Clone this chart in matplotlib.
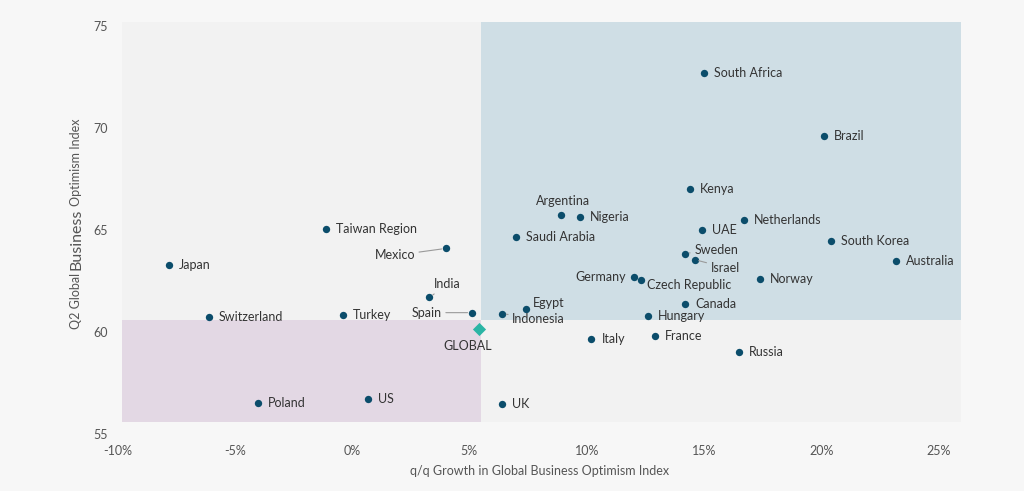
import matplotlib.pyplot as plt
from matplotlib.patches import Rectangle

plt.rcParams['font.family'] = ['Lato', 'DejaVu Sans']

# country data: q/q growth (%) and Q2 optimism index
countries = ['South Africa', 'Brazil', 'Kenya', 'Netherlands', 'UAE', 'South Korea',
             'Sweden', 'Israel', 'Australia', 'Norway', 'Germany', 'Czech Republic',
             'Canada', 'Hungary', 'France', 'Russia', 'Italy', 'Argentina', 'Nigeria',
             'Saudi Arabia', 'Egypt', 'Indonesia', 'UK', 'Spain', 'India', 'Mexico',
             'Japan', 'Switzerland', 'Turkey', 'Poland', 'US', 'Taiwan Region']
growth = [15.0, 20.1, 14.4, 16.7, 14.9, 20.4, 14.2, 14.6, 23.2, 17.4, 12.0, 12.3,
          14.2, 12.6, 12.9, 16.5, 10.2, 8.9, 9.7, 7.0, 7.4, 6.4, 6.4, 5.1, 3.3, 4.0,
          -7.8, -6.1, -0.4, -4.0, 0.7, -1.1]
index = [72.7, 69.6, 67.0, 65.5, 65.0, 64.45, 63.85, 63.55, 63.5, 62.6, 62.7, 62.55,
         61.35, 60.8, 59.8, 59.0, 59.65, 65.75, 65.65, 64.65, 61.15, 60.9, 56.45,
         60.95, 61.7, 64.1, 63.3, 60.75, 60.85, 56.5, 56.7, 65.05]

global_growth = 5.4
global_index = 60.15
split_x = 5.5
split_y = 60.6

# label offsets in pixels (default: right of the point)
offsets = {
    'Mexico': (-31, -7, 'right', True),
    'India': (18, 13, 'center', True),
    'Spain': (-30, 0, 'right', True),
    'Indonesia': (10, -5, 'left', True),
    'Argentina': (2, 14, 'center', False),
    'Egypt': (7, 6, 'left', False),
    'Germany': (-8, 0, 'right', False),
    'Czech Republic': (6, -5, 'left', False),
    'Sweden': (9, 4, 'left', True),
    'Israel': (16, -8, 'left', True),
}

fig = plt.figure(figsize=(10.24, 4.91), dpi=100, facecolor='#f7f7f7')
ax = fig.add_axes([0.1146, 0.1161, 0.825, 0.839])
ax.set_facecolor('#f7f7f7')
ax.set_xlim(-10, 26)
ax.set_ylim(55, 75.2)

x0, x1 = -9.8, 25.95
y0, y1 = 55.6, 75.2
ax.add_patch(Rectangle((x0, split_y), split_x - x0, y1 - split_y, color='#f2f2f2', zorder=0, lw=0))
ax.add_patch(Rectangle((split_x, split_y), x1 - split_x, y1 - split_y, color='#cfdee5', zorder=0, lw=0))
ax.add_patch(Rectangle((x0, y0), split_x - x0, split_y - y0, color='#e3d8e4', zorder=0, lw=0))
ax.add_patch(Rectangle((split_x, y0), x1 - split_x, split_y - y0, color='#f2f2f2', zorder=0, lw=0))

ax.scatter(growth, index, s=28, color='#0b4d6b', zorder=3, linewidths=0)
ax.scatter([global_growth], [global_index], s=45, marker='D', color='#2bb5a5', zorder=3, linewidths=0)

for name, gx, gy in zip(countries, growth, index):
    dx, dy, ha, leader = offsets.get(name, (10, 0, 'left', False))
    ax.annotate(name, (gx, gy), xytext=(dx, dy), textcoords='offset pixels',
                ha=ha, va='center', fontsize=9, color='#333333', zorder=4,
                arrowprops=dict(arrowstyle='-', color='#9a9a9a', lw=0.8,
                                shrinkA=1, shrinkB=3) if leader else None)

ax.annotate('GLOBAL', (global_growth, global_index), xytext=(-11, -17),
            textcoords='offset pixels', ha='center', va='center', fontsize=9, color='#333333')

ax.set_xticks([-10, -5, 0, 5, 10, 15, 20, 25])
ax.set_xticklabels(['-10%', '-5%', '0%', '5%', '10%', '15%', '20%', '25%'])
ax.set_yticks([55, 60, 65, 70, 75])
ax.tick_params(length=0, labelsize=9, labelcolor='#555555')
ax.tick_params(axis='x', pad=8)
ax.tick_params(axis='y', pad=7)
for s in ax.spines.values():
    s.set_visible(False)

ax.set_xlabel('q/q Growth in Global Business Optimism Index', fontsize=9, color='#555555', labelpad=6)

# y label with a larger "Business"
renderer = fig.canvas.get_renderer()
parts = [('Q2 Global', 9), ('Business', 11.5), ('Optimism Index', 9)]
ypix = 491 - 329
for txt, size in parts:
    t = fig.text(80 / 1024, ypix / 491, txt, rotation=90, fontsize=size, color='#555555',
                 ha='left', va='baseline', rotation_mode='anchor')
    bb = t.get_window_extent(renderer)
    ypix += bb.height + 3

fig.savefig('out.png', dpi=100, facecolor=fig.get_facecolor())
